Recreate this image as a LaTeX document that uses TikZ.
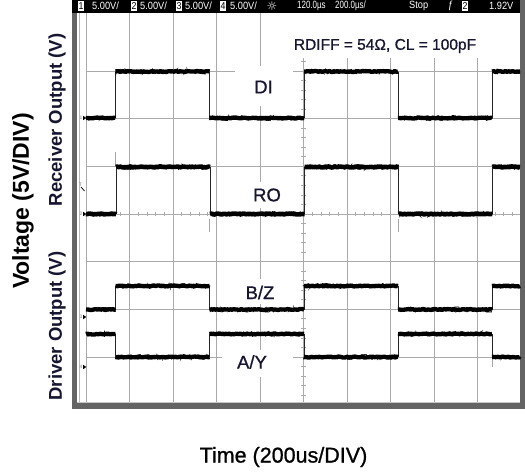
\documentclass[tikz,border=0pt]{standalone}
\usepackage{fontspec}
\setmainfont{Liberation Sans}
\newfontfamily\scopefont[FakeStretch=0.88]{Liberation Sans}
\newfontfamily\lblfont[FakeBold=0.9]{Liberation Sans}
\newfontfamily\symfont{DejaVu Sans}
\usetikzlibrary{decorations.pathmorphing}
\definecolor{lblc}{RGB}{22,22,48}
\definecolor{gridc}{RGB}{170,170,170}
\definecolor{framec}{RGB}{100,100,100}
\tikzset{
  trace/.style={line width=4.3pt, line join=round, decorate,
    decoration={random steps, segment length=1.5pt, amplitude=0.5pt}},
  fuzz/.style={line width=0.55pt, decorate,
    decoration={random steps, segment length=1.8pt, amplitude=2.7pt}},
  edgeline/.style={line width=0.9pt, black!85},
  gridline/.style={gridc, line width=1pt},
  lbl/.style={text=lblc, font=\lblfont\fontsize{18.5}{18.5}\selectfont, inner sep=0pt},
  sbox/.style={fill=white, text=black, inner sep=0pt, minimum width=6.5pt,
    minimum height=10pt, font=\scopefont\fontsize{10}{10}\selectfont},
  stext/.style={text=white, inner sep=0pt, anchor=west,
    font=\scopefont\fontsize{10.5}{10.5}\selectfont},
  gmark/.style={text=gray, inner sep=0pt, font=\fontsize{5}{5}\selectfont},
  axlbl/.style={text=lblc, font=\bfseries\fontsize{18.5}{18.5}\selectfont, inner sep=0pt, rotate=90},
}
\begin{document}
\begin{tikzpicture}[x=1pt,y=-1pt]
\pgfmathsetseed{11}
\useasboundingbox (0,0) rectangle (525,474);
\fill[white] (0,0) rectangle (525,474);

% ---- grid ----
\foreach \i in {0,...,9}
  \draw[gridline] ({86+43.5*\i},12) -- ({86+43.5*\i},403);
\foreach \k in {0,...,6}
  \draw[gridline] (86,{71+47.67*\k}) -- (520,{71+47.67*\k});
% center ticks
\foreach \t in {1,...,49}
  \draw[gridc, line width=0.8pt] ({86+8.7*\t},211.8) -- ({86+8.7*\t},216.2);
\foreach \t in {-22,...,19}
  \draw[gridc, line width=0.8pt] (301.3,{214+9.534*\t}) -- (305.7,{214+9.534*\t});

% ---- white label backgrounds ----
\fill[white] (283,12) rectangle (487,58);
\fill[white] (235,66) rectangle (293,106);
\fill[white] (237,182) rectangle (293,208);
\fill[white] (232,279) rectangle (290,304);
\fill[white] (222,350) rectangle (293,377);

% ---- frame ----
\draw[gray!55, line width=0.8pt] (79.5,12) -- (79.5,403);
\fill[framec] (72,0) rectangle (77,409);
\fill[framec] (72,403) rectangle (525,409);
\fill[framec] (520,0) rectangle (525,409);
\draw[gray!45, line width=0.8pt] (77,402.6) -- (520,402.6);

% ---- top status bar ----
\fill[black] (72,0) rectangle (520,12.5);
\node[sbox] (c1) at (81,6.2) {1};
\node[stext] (v1) at (92,6.2) {5.00V/};
\node[sbox] (c2) at (134,6.2) {2};
\node[stext] (v2) at (140,6.2) {5.00V/};
\node[sbox] (c3) at (179,6.2) {3};
\node[stext] (v3) at (185,6.2) {5.00V/};
\node[sbox] (c4) at (223,6.2) {4};
\node[stext] (v4) at (230,6.2) {5.00V/};
\node[text=white, inner sep=0pt, font=\symfont\fontsize{12}{12}\selectfont] (sun) at (272,6.2) {☼};
\node[stext] (tpos) at (297,6.2) {\scalebox{0.86}[1]{120.0µs}};
\node[stext] (tdiv) at (335,6.2) {\scalebox{0.86}[1]{200.0µs/}};
\node[stext] (stop) at (409,6.2) {Stop};
\node[stext] (trg) at (448,6.2) {ƒ};
\node[sbox] (c5) at (465,6.2) {2};
\node[stext] (lev) at (489,6.2) {1.92V};

% ---- ground markers ----
\foreach \n/\yy in {1/118, 2/214, 3/317, 4/367} {
  \node[gmark] (g\n) at (81,\yy) {\n};
  \fill[black] (83.2,\yy-2.2) -- (86.2,\yy) -- (83.2,\yy+2.2) -- cycle;
}
\node[gmark] (gt) at (80.5,185) {T};
\draw[black, line width=0.7pt] (81,187) -- (84.5,191);

% ---- artifacts ----
\draw[gray!70, line width=0.8pt] (115.5,152) -- (115.5,167);
\draw[gray!70, line width=0.8pt] (209.5,219) -- (209.5,232);
\draw[gray!70, line width=0.8pt] (398,219) -- (398,232);
\draw[gray!70, line width=0.8pt] (492,357) -- (492,367);

% ---- traces ----
% DI
\foreach \xe in {115.5,209.5,304,398,492}
  \draw[edgeline] (\xe,71.5) -- (\xe,118);
\foreach \xa/\xb/\lv in {86/115.5/118, 115.5/209.5/71.5, 209.5/304/118, 304/398/71.5, 398/492/118, 492/520/71.5} {
  \draw[trace] (\xa,\lv) -- (\xb,\lv);
  \draw[fuzz] (\xa,\lv) -- (\xb,\lv);
}
% RO
\foreach \xe in {116,210,304.5,398.5,492.5}
  \draw[edgeline] (\xe,167) -- (\xe,214);
\foreach \xa/\xb/\lv in {86/116/214, 116/210/167, 210/304.5/214, 304.5/398.5/167, 398.5/492.5/214, 492.5/520/167} {
  \draw[trace, line width=4.6pt] (\xa,\lv) -- (\xb,\lv);
  \draw[fuzz] (\xa,\lv) -- (\xb,\lv);
}
% B/Z
\foreach \xe in {115.5,209.5,304,398,492}
  \draw[edgeline] (\xe,286) -- (\xe,309.5);
\foreach \xa/\xb/\lv in {86/115.5/309.5, 115.5/209.5/286, 209.5/304/309.5, 304/398/286, 398/492/309.5, 492/520/286} {
  \draw[trace] (\xa,\lv) -- (\xb,\lv);
  \draw[fuzz] (\xa,\lv) -- (\xb,\lv);
}
% A/Y
\foreach \xe in {115.5,209.5,304,398,492}
  \draw[edgeline] (\xe,334) -- (\xe,357);
\foreach \xa/\xb/\lv in {86/115.5/334, 115.5/209.5/357, 209.5/304/334, 304/398/357, 398/492/334, 492/520/357} {
  \draw[trace] (\xa,\lv) -- (\xb,\lv);
  \draw[fuzz] (\xa,\lv) -- (\xb,\lv);
}

% ---- labels ----
\node[text=lblc, inner sep=0pt, font=\lblfont\fontsize{15.5}{15.5}\selectfont] (cond) at (385,46) {RDIFF = 54Ω, CL = 100pF};
\node[lbl] (di) at (263.5,87) {DI};
\node[lbl] (ro) at (267,195) {RO};
\node[lbl] (bz) at (260,292.5) {B/Z};
\node[lbl] (ay) at (252,362) {A/Y};

\node[axlbl] (rxo) at (57,120) {Receiver Output (V)};
\node[axlbl] (dxo) at (57,326) {Driver Output (V)};
\node[text=black, inner sep=0pt, rotate=90, font=\bfseries\fontsize{23}{23}\selectfont] (volt) at (23,201) {Voltage (5V/DIV)};
\node[text=black, inner sep=0pt, font=\lblfont\fontsize{21.5}{21.5}\selectfont] (time) at (283.5,457) {Time (200us/DIV)};
\end{tikzpicture}
\end{document}
